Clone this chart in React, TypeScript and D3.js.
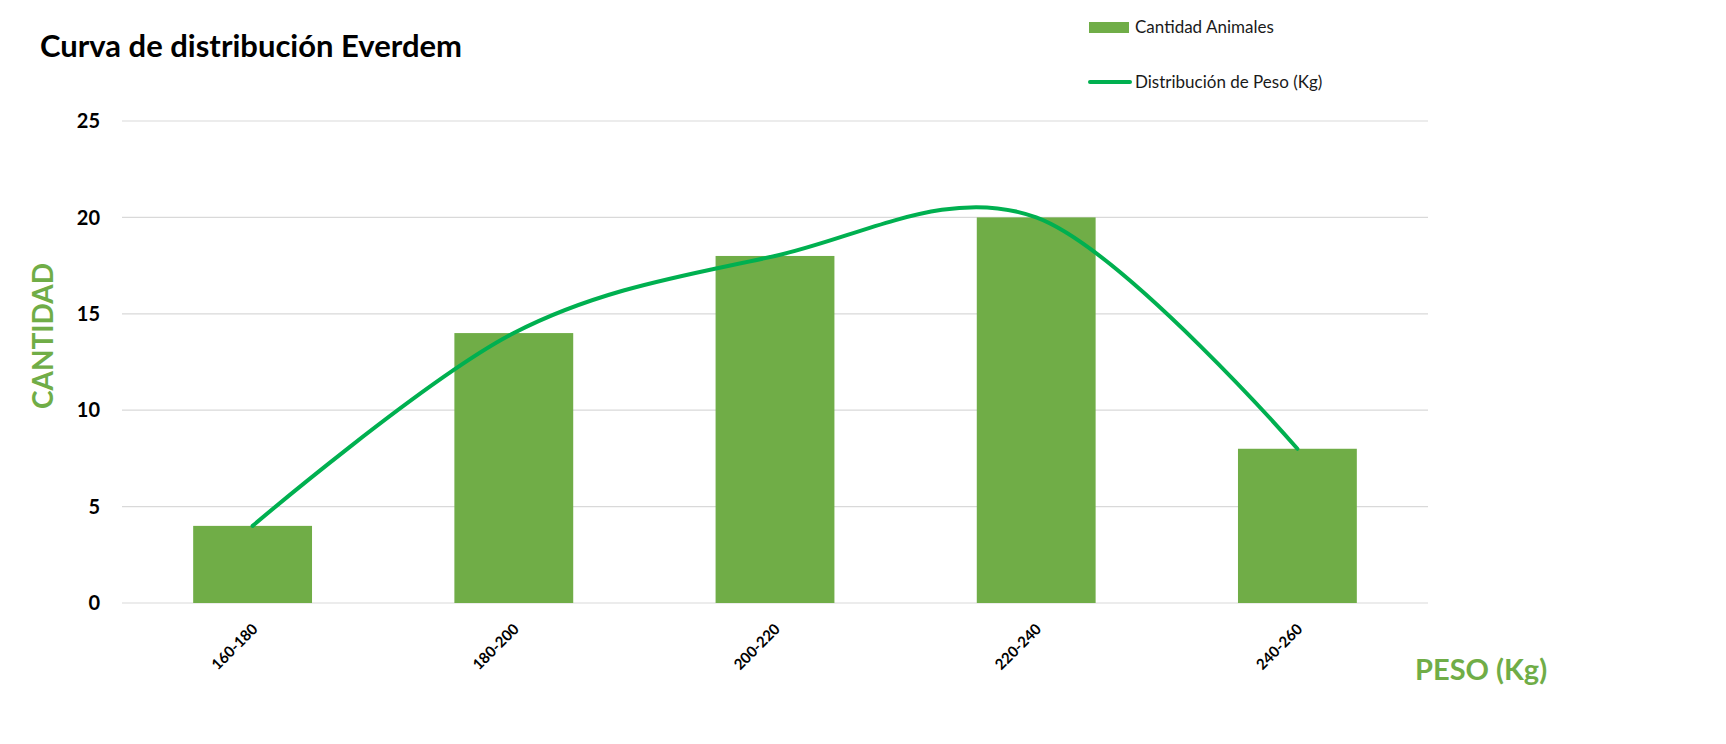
import React from "react";
import * as d3 from "d3";

const categories = ["160-180", "180-200", "200-220", "220-240", "240-260"];
const cantidad = [4, 14, 18, 20, 8];
const yTicks = [0, 5, 10, 15, 20, 25];

const W = 1726;
const H = 744;
const FONT = "Lato, 'Open Sans', sans-serif";
const BAR = "#70AD47";
const LINE = "#00B050";

export default function App() {
  const margin = { left: 122, right: W - 1428, top: 121, bottom: H - 603 };
  const x = d3
    .scaleBand<string>()
    .domain(categories)
    .range([margin.left, W - margin.right])
    .paddingInner(0.545)
    .paddingOuter(0.2725);
  const y = d3.scaleLinear().domain([0, 25]).range([H - margin.bottom, margin.top]);
  const line = d3
    .line<number>()
    .x((_, i) => (x(categories[i]) as number) + x.bandwidth() / 2)
    .y((d) => y(d))
    .curve(d3.curveCardinal.tension(0));

  return (
    <svg
      width={W}
      height={H}
      style={{ position: "absolute", left: 0, top: 0, background: "#fff" }}
      fontFamily={FONT}
    >
      <rect width={W} height={H} fill="#fff" />
      <text x={40} y={57} fontSize={31} fontWeight={700} fill="#000">
        Curva de distribución Everdem
      </text>

      {/* legend */}
      <rect x={1089} y={22} width={40} height={11} fill={BAR} />
      <text x={1135} y={33} fontSize={17} fill="#1a1a1a">
        Cantidad Animales
      </text>
      <line x1={1090} x2={1130} y1={82} y2={82} stroke={LINE} strokeWidth={4} strokeLinecap="round" />
      <text x={1135} y={88} fontSize={17} fill="#1a1a1a">
        Distribución de Peso (Kg)
      </text>

      {/* grid */}
      {yTicks.map((t) => (
        <g key={t}>
          <line
            x1={margin.left}
            x2={W - margin.right}
            y1={y(t)}
            y2={y(t)}
            stroke="#D9D9D9"
            strokeWidth={1.2}
          />
          <text x={100} y={y(t)} dy="0.36em" textAnchor="end" fontSize={20} fontWeight={700} fill="#000">
            {t}
          </text>
        </g>
      ))}

      {/* bars */}
      {cantidad.map((v, i) => (
        <rect
          key={categories[i]}
          x={x(categories[i])}
          y={y(v)}
          width={x.bandwidth()}
          height={y(0) - y(v)}
          fill={BAR}
        />
      ))}

      {/* smoothed line */}
      <path d={line(cantidad) || ""} fill="none" stroke={LINE} strokeWidth={4} strokeLinecap="round" />

      {/* x labels */}
      {categories.map((c) => {
        const cx = (x(c) as number) + x.bandwidth() / 2;
        return (
          <text
            key={c}
            transform={`translate(${cx + 6},${630}) rotate(-45)`}
            textAnchor="end"
            fontSize={15}
            fontWeight={700}
            fill="#000"
          >
            {c}
          </text>
        );
      })}

      {/* axis titles */}
      <text
        transform={`translate(53,336) rotate(-90)`}
        textAnchor="middle"
        fontSize={28}
        fontWeight={700}
        fill={BAR}
      >
        CANTIDAD
      </text>
      <text x={1415} y={680} fontSize={29} fontWeight={700} fill={BAR}>
        PESO (Kg)
      </text>
    </svg>
  );
}
